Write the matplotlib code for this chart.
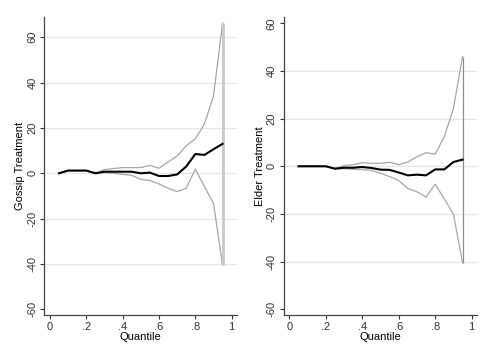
import matplotlib
matplotlib.use("Agg")
import matplotlib.pyplot as plt

plt.rcParams['font.family'] = ['Liberation Sans', 'DejaVu Sans']

quantiles = [0.05, 0.10, 0.15, 0.20, 0.25, 0.30, 0.35, 0.40, 0.45, 0.50,
             0.55, 0.60, 0.65, 0.70, 0.75, 0.80, 0.85, 0.90, 0.95]

# gossip treatment
gossip_coef = [0, 1.2, 1.2, 1.2, 0, 0.7, 0.7, 0.7, 0.7, 0,
               0.3, -1.2, -1.2, -0.5, 3.0, 8.5, 8.1, 10.6, 13.0]
gossip_hi = [0, 1.2, 1.2, 1.2, 0, 1.6, 2.1, 2.5, 2.5, 2.5,
             3.5, 2.2, 5.0, 7.6, 12.2, 15.2, 21.7, 34.1, 66.2]
gossip_lo = [0, 1.2, 1.2, 1.2, 0, 0.3, 0, -0.5, -0.9, -2.7,
             -3.2, -4.7, -6.6, -8.1, -6.6, 1.8, -5.8, -13.3, -40.5]

# elder treatment
elder_coef = [0, 0, 0, 0, -1.0, -0.6, -0.6, -0.3, -0.7, -1.4,
              -1.5, -2.6, -3.8, -3.5, -3.8, -1.3, -1.3, 1.8, 2.8]
elder_hi = [0, 0, 0, 0, -1.0, 0.3, 0.7, 1.5, 1.25, 1.25,
            1.7, 0.7, 1.8, 4.0, 5.7, 5.1, 12.4, 24.2, 46.0]
elder_lo = [0, 0, 0, 0, -1.0, -1.0, -1.25, -1.4, -1.7, -2.9,
            -4.3, -6.0, -9.3, -10.7, -12.9, -7.5, -13.7, -20.0, -40.4]

xticks = [0, 0.2, 0.4, 0.6, 0.8, 1]
xticklabels = ["0", ".2", ".4", ".6", ".8", "1"]
yticks = [-60, -40, -20, 0, 20, 40, 60]


def panel(ax, coef, hi, lo, ylabel, ylim, grid_vals, vline_color, vline_w):
    for g in grid_vals:
        ax.axhline(g, color='#e6e6e6', lw=0.9, zorder=0)
    ax.plot(quantiles, hi, color='#a6a6a6', lw=0.9, zorder=2)
    ax.plot(quantiles, lo, color='#a6a6a6', lw=0.9, zorder=2)
    ax.vlines(quantiles[-1], lo[-1], hi[-1], color=vline_color, lw=vline_w, zorder=2)
    ax.plot(quantiles, coef, color='black', lw=1.5, zorder=3)
    ax.set_xlim(-0.031, 1.031)
    ax.set_ylim(*ylim)
    ax.set_xticks(xticks)
    ax.set_xticklabels(xticklabels)
    ax.set_yticks(yticks)
    ax.set_yticklabels([str(v) for v in yticks], rotation=90, va='center')
    ax.tick_params(direction='out', length=3, width=0.8, colors='#333333',
                   labelsize=8, pad=2)
    for s in ['top', 'right']:
        ax.spines[s].set_visible(False)
    for s in ['left', 'bottom']:
        ax.spines[s].set_color('#444444')
        ax.spines[s].set_linewidth(0.9)
    ax.set_xlabel("Quantile", fontsize=8, labelpad=0)
    ax.set_ylabel(ylabel, fontsize=8, labelpad=1.5)


fig = plt.figure(figsize=(4.95, 3.6), dpi=100)
ax1 = fig.add_axes([0.0895, 0.1258, 0.3899, 0.826])
ax2 = fig.add_axes([0.5731, 0.1258, 0.3911, 0.8278])

panel(ax1, gossip_coef, gossip_hi, gossip_lo, "Gossip Treatment",
      (-62.4, 68.8), [-40, -20, 0, 20, 40, 60], '#c8c8c8', 2.0)
panel(ax2, elder_coef, elder_hi, elder_lo, "Elder Treatment",
      (-62.3, 62.8), [-40, -20, 0, 20, 40], '#8c8c8c', 0.9)

fig.savefig("out.png", dpi=100)
